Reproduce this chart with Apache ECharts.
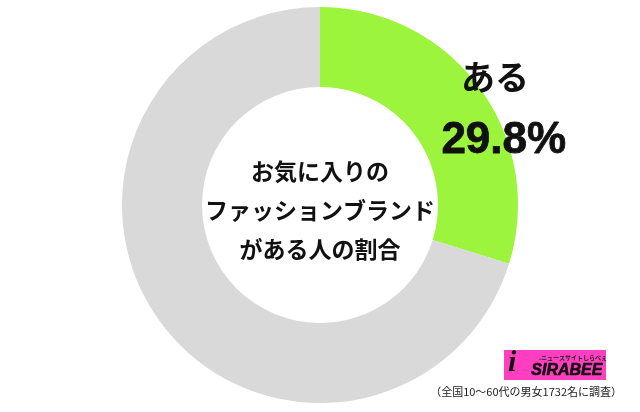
<!DOCTYPE html>
<html><head><meta charset="utf-8">
<script src="https://cdn.jsdelivr.net/npm/echarts@6/dist/echarts.min.js"></script>
<style>html,body{margin:0;padding:0;background:#fff}#c{width:640px;height:412px}</style>
</head><body><div id="c"></div>
<script>
const categories = ['ある', 'ない'];
const values = [29.8, 70.2];
const colors = ['#9cf43c', '#d9d9d9'];
const centerLines = ['お気に入りの', 'ファッションブランド', 'がある人の割合'];
const footnote = '（全国10〜60代の男女1732名に調査）';

const chart = echarts.init(document.getElementById('c'));
const font = '"Noto Sans CJK JP", "Noto Sans", sans-serif';
chart.setOption({
  animation: false,
  series: [{
    type: 'pie',
    z: 1,
    center: [320, 205],
    radius: [118, 198],
    startAngle: 90,
    clockwise: true,
    label: { show: false },
    labelLine: { show: false },
    emphasis: { disabled: true },
    itemStyle: { borderWidth: 0 },
    data: categories.map((c, i) => ({ name: c, value: values[i], itemStyle: { color: colors[i] } }))
  }],
  graphic: { elements: [
    { type: 'text', z: 100, left: 'center', top: 152, style: { text: centerLines.join('\n'), font: 'bold 23px ' + font, fill: '#111', textAlign: 'center', lineHeight: 39 } },
    { type: 'text', z: 100, left: 461, top: 60, style: { text: categories[0], font: 'bold 34px ' + font, fill: '#111' } },
    { type: 'text', z: 100, left: 441, top: 118, style: { text: values[0].toFixed(1) + '%', font: 'bold 44px "Liberation Sans", Arial, sans-serif', fill: '#111', stroke: '#111', lineWidth: 0.8 } },
    { type: 'rect', z: 100, shape: { x: 504, y: 350, width: 102, height: 30 }, style: { fill: '#ff3fbf' } },
    { type: 'text', z: 101, left: 539, top: 355, style: { text: '.ニュースサイトしらべぇ', font: 'bold 6px ' + font, fill: '#222' } },
    { type: 'text', z: 101, left: 531, top: 362, style: { text: 'SIRABEE', font: 'italic bold 16px "Liberation Sans", Arial, sans-serif', fill: '#111', stroke: '#111', lineWidth: 0.6 } },
    { type: 'text', z: 101, left: 508, top: 348, style: { text: 'i', font: 'italic bold 30px "Liberation Serif", serif', fill: '#111' } },
    { type: 'text', z: 100, right: 18, top: 386, style: { text: footnote, font: '11px ' + font, fill: '#222' } }
  ]}
});
</script></body></html>
